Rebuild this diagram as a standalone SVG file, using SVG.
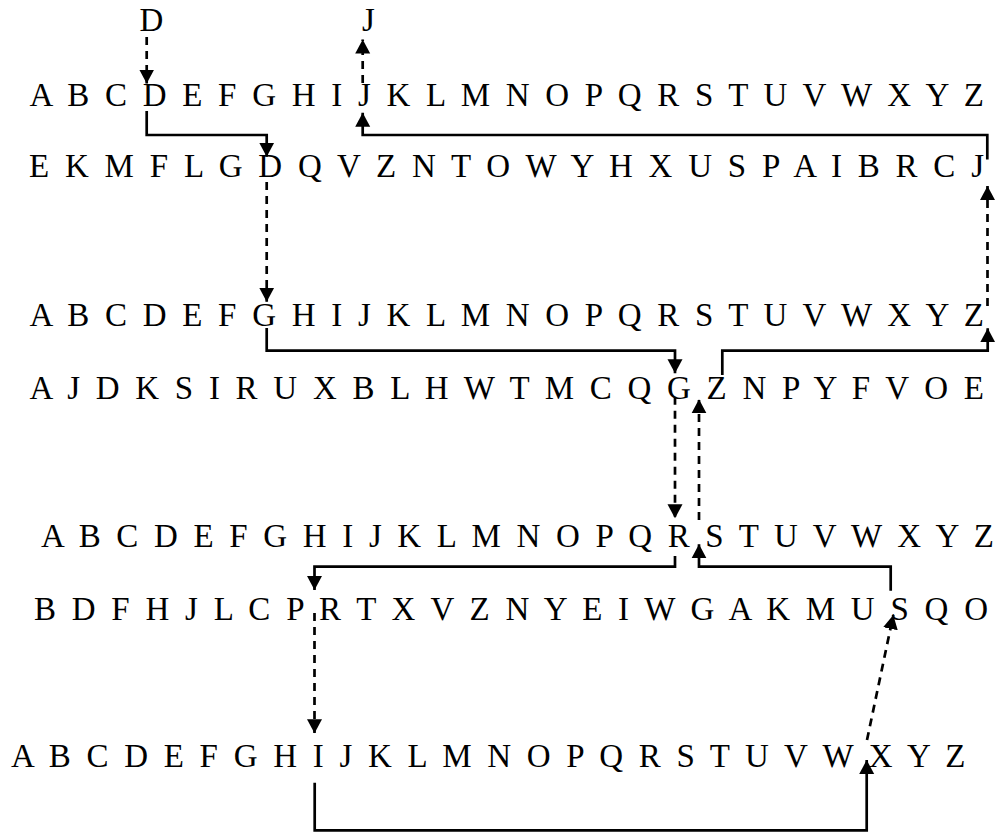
<svg xmlns="http://www.w3.org/2000/svg" width="1000" height="832" viewBox="0 0 1000 832">
  <style>
    .row { font-family: "Liberation Serif", "Times New Roman", serif; font-size: 33px; word-spacing: 7px; fill: #000; }
    .lbl { font-family: "Liberation Serif", "Times New Roman", serif; font-size: 33px; fill: #000; }
    .solid { fill: none; stroke: #000; stroke-width: 2.7; marker-end: url(#ah); }
    .dash { fill: none; stroke: #000; stroke-width: 2.7; stroke-dasharray: 8 6; marker-end: url(#ah); }
  </style>
  <defs>
    <marker id="ah" markerUnits="userSpaceOnUse" markerWidth="16" markerHeight="16" refX="14" refY="8" orient="auto">
      <path d="M0,0.5 L14,8 L0,15.5 Z" fill="#000"/>
    </marker>
  </defs>
  <rect width="1000" height="832" fill="#fff"/>

  <g id="label-D"><text class="lbl" x="139.5" y="31">D</text></g>
  <g id="label-J"><text class="lbl" x="362" y="31">J</text></g>

  <g id="row1"><text class="row" x="29.5" y="106" textLength="954.5" lengthAdjust="spacing">A B C D E F G H I J K L M N O P Q R S T U V W X Y Z</text></g>
  <g id="row2"><text class="row" x="29" y="177" textLength="955" lengthAdjust="spacing">E K M F L G D Q V Z N T O W Y H X U S P A I B R C J</text></g>
  <g id="row3"><text class="row" x="29.5" y="326" textLength="954.5" lengthAdjust="spacing">A B C D E F G H I J K L M N O P Q R S T U V W X Y Z</text></g>
  <g id="row4"><text class="row" x="29.5" y="399" textLength="954.5" lengthAdjust="spacing">A J D K S I R U X B L H W T M C Q G Z N P Y F V O E</text></g>
  <g id="row5"><text class="row" x="41" y="547" textLength="953" lengthAdjust="spacing">A B C D E F G H I J K L M N O P Q R S T U V W X Y Z</text></g>
  <g id="row6"><text class="row" x="34" y="620" textLength="954" lengthAdjust="spacing">B D F H J L C P R T X V Z N Y E I W G A K M U S Q O</text></g>
  <g id="row7"><text class="row" x="11" y="767" textLength="954.5" lengthAdjust="spacing">A B C D E F G H I J K L M N O P Q R S T U V W X Y Z</text></g>

  <g id="connectors">
    <path class="dash" d="M146.7,37 V83.5"/>
    <path class="dash" d="M362.7,83 V39.5"/>
    <path class="solid" d="M146.7,111 V135 H266.7 V156.7"/>
    <path class="solid" d="M987.3,159.5 V135 H362.7 V112.7"/>
    <path class="dash" d="M266.7,182 V301.7"/>
    <path class="solid" d="M266.7,328 V350.7 H675 V373.3"/>
    <path class="solid" d="M722.3,375 V350.7 H987.7 V328.3"/>
    <path class="dash" d="M987.5,306 V186"/>
    <path class="dash" d="M675,396.7 V518.3"/>
    <path class="dash" d="M699,520 V399.3"/>
    <path class="solid" d="M675,556 V566.7 H314.5 V590"/>
    <path class="solid" d="M890.7,590.7 V566.7 H699 V544.3"/>
    <path class="dash" d="M314.5,613 V733.3"/>
    <path class="solid" d="M314.7,782.7 V830.3 H866.7 V760"/>
    <path class="dash" d="M867,740 L893.3,615"/>
  </g>
</svg>
